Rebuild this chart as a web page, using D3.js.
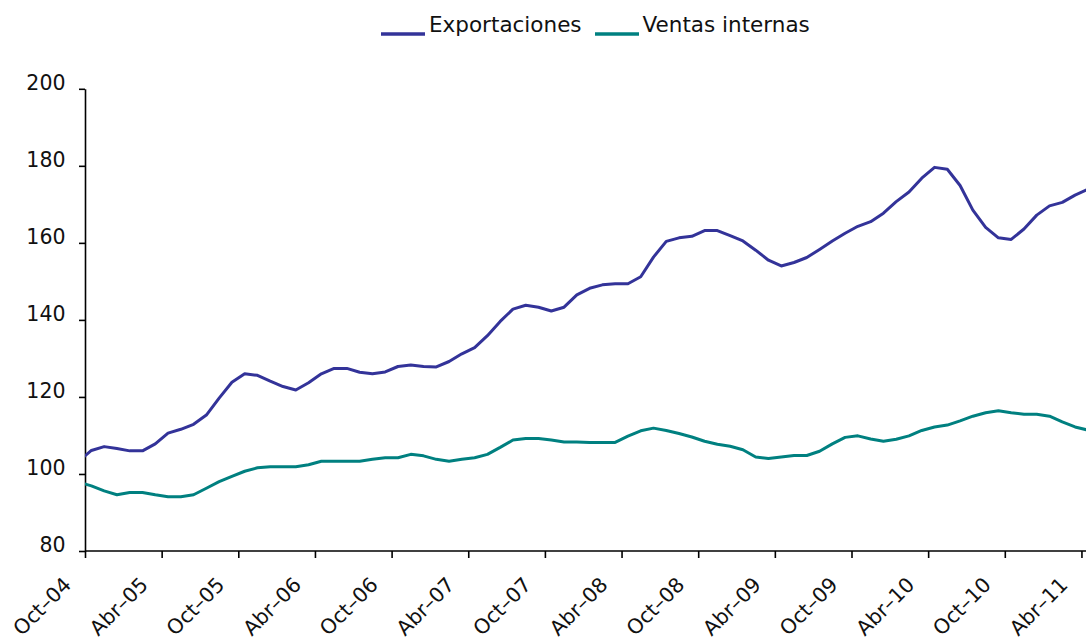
<!DOCTYPE html>
<html>
<head>
<meta charset="utf-8">
<script src="https://cdn.jsdelivr.net/npm/d3@7"></script>
<style>
  html, body { margin: 0; padding: 0; background: #fff; }
  svg { display: block; }
</style>
</head>
<body>
<div id="chart"></div>
<script>
// ---- Data ----
const monthNames = ["Ene","Feb","Mar","Abr","May","Jun","Jul","Ago","Sep","Oct","Nov","Dic"];
// categories: monthly, Sep-04 .. Abr-11
const categories = [];
for (let y = 2004, m = 8; !(y === 2011 && m === 4); ) {
  categories.push(monthNames[m] + "–" + String(y % 100).padStart(2, "0"));
  m++; if (m === 12) { m = 0; y++; }
}
const tickLabels = ["Oct–04","Abr–05","Oct–05","Abr–06","Oct–06","Abr–07","Oct–07",
                    "Abr–08","Oct–08","Abr–09","Oct–09","Abr–10","Oct–10","Abr–11"];
const yTicks = [80, 100, 120, 140, 160, 180, 200];
const seriesNames = ["Exportaciones", "Ventas internas"];
const exportaciones = [
  103.3, 106.1, 107.1, 106.6, 106.0, 106.0, 107.8, 110.6, 111.6, 112.9,
  115.3, 119.7, 123.8, 126.0, 125.6, 124.1, 122.7, 121.8, 123.7, 126.0,
  127.4, 127.4, 126.4, 126.0, 126.5, 127.9, 128.3, 127.9, 127.8, 129.2,
  131.2, 132.8, 135.9, 139.6, 142.8, 143.8, 143.3, 142.3, 143.3, 146.5,
  148.2, 149.1, 149.4, 149.4, 151.2, 156.3, 160.4, 161.3, 161.7, 163.2,
  163.2, 161.9, 160.5, 158.1, 155.5, 154.0, 154.9, 156.2, 158.3, 160.5,
  162.5, 164.3, 165.5, 167.7, 170.7, 173.2, 176.8, 179.6, 179.1, 174.9,
  168.5, 164.0, 161.3, 160.9, 163.6, 167.2, 169.6, 170.5, 172.4, 173.9
];
const ventasInternas = [
  97.9, 96.9, 95.6, 94.6, 95.2, 95.2, 94.6, 94.1, 94.1, 94.6,
  96.3, 98.0, 99.4, 100.7, 101.6, 101.9, 101.9, 101.9, 102.4, 103.3,
  103.3, 103.3, 103.3, 103.8, 104.2, 104.2, 105.1, 104.7, 103.8, 103.3,
  103.8, 104.2, 105.1, 106.9, 108.8, 109.2, 109.2, 108.8, 108.3, 108.3,
  108.2, 108.2, 108.2, 109.8, 111.2, 111.9, 111.3, 110.5, 109.6, 108.5,
  107.7, 107.2, 106.3, 104.4, 104.0, 104.4, 104.8, 104.8, 105.9, 107.8,
  109.5, 109.9, 109.1, 108.5, 109.0, 109.9, 111.3, 112.2, 112.7, 113.8,
  115.0, 115.9, 116.4, 115.9, 115.5, 115.5, 115.0, 113.5, 112.2, 111.4
];
const colors = ["#333399", "#008080"];

// ---- Layout ----
const W = 1086, H = 639;
const plot = { left: 85, right: 1086, top: 88.8, bottom: 551 };
const bw = 12.775;

const svg = d3.select("#chart").append("svg")
  .attr("width", W).attr("height", H);

// x: category index -> pixel (category i occupies [i, i+1])
const x = d3.scaleLinear()
  .domain([0, categories.length])
  .range([plot.left - bw, plot.left - bw + categories.length * bw]);
const y = d3.scaleLinear().domain([80, 200]).range([plot.bottom, plot.top]);

svg.append("defs").append("clipPath").attr("id", "clip")
  .append("rect").attr("x", plot.left).attr("y", 0)
  .attr("width", plot.right - plot.left + 10).attr("height", plot.bottom);

const font = "'DejaVu Sans', Verdana, sans-serif";
const tickFontSize = 20.5;

// ---- Axes ----
const yAxis = d3.axisLeft(y).tickValues(yTicks).tickSize(6).tickSizeOuter(0).tickPadding(13.5);
const gy = svg.append("g").attr("transform", `translate(${plot.left},0)`).call(yAxis);
gy.select(".domain").attr("stroke", "#000").attr("stroke-width", 1.6);
gy.selectAll(".tick line").attr("stroke", "#000").attr("stroke-width", 1.6);
gy.selectAll(".tick text")
  .attr("font-family", font).attr("font-size", tickFontSize).attr("fill", "#111")
  .attr("dy", "0.02em");

const tickIdx = tickLabels.map(l => categories.indexOf(l));
const xAxis = d3.axisBottom(x).tickValues(tickIdx).tickSize(7).tickSizeOuter(0)
  .tickFormat(i => categories[i]);
const gx = svg.append("g").attr("transform", `translate(0,${plot.bottom})`).call(xAxis);
gx.select(".domain").remove();
gx.append("line").attr("x1", plot.left).attr("x2", plot.right + 10)
  .attr("y1", 0).attr("y2", 0).attr("stroke", "#000").attr("stroke-width", 1.6);
gx.selectAll(".tick line").attr("stroke", "#000").attr("stroke-width", 1.6);
gx.selectAll(".tick text")
  .attr("font-family", font).attr("font-size", tickFontSize).attr("fill", "#111")
  .attr("text-anchor", "end")
  .attr("y", 0).attr("dy", 0)
  .attr("transform", "translate(-13,35) rotate(-45)");

// ---- Lines ----
const series = [exportaciones, ventasInternas];
const line = d3.line().x((d, i) => x(i + 0.5)).y(d => y(d));
const gLines = svg.append("g").attr("clip-path", "url(#clip)");
series.forEach((s, k) => {
  gLines.append("path").datum(s)
    .attr("fill", "none").attr("stroke", colors[k])
    .attr("stroke-width", 3).attr("stroke-linejoin", "round")
    .attr("d", line);
});

// ---- Legend ----
const legend = svg.append("g").attr("font-family", font).attr("font-size", 21.5);
const legendPos = [{ lx: 381, tx: 429 }, { lx: 595, tx: 642.5 }];
seriesNames.forEach((name, k) => {
  legend.append("line")
    .attr("x1", legendPos[k].lx).attr("x2", legendPos[k].lx + 44)
    .attr("y1", 34).attr("y2", 34)
    .attr("stroke", colors[k]).attr("stroke-width", 3.5);
  legend.append("text").attr("x", legendPos[k].tx).attr("y", 32)
    .attr("fill", "#111").text(name);
});
</script>
</body>
</html>
